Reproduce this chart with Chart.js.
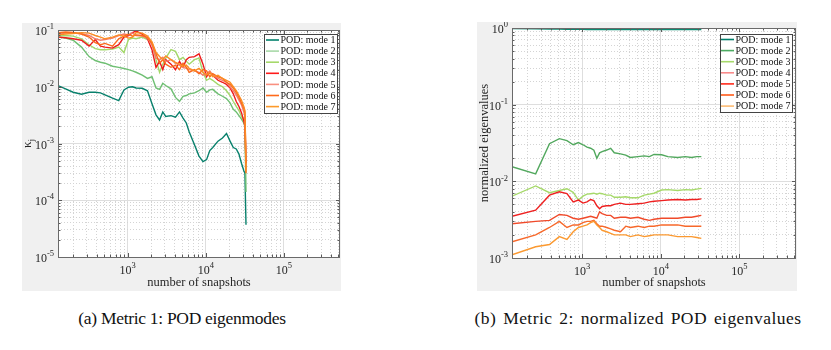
<!DOCTYPE html>
<html><head><meta charset="utf-8">
<script src="https://cdn.jsdelivr.net/npm/chart.js@4.4.1/dist/chart.umd.min.js"></script>
<style>
html,body{margin:0;padding:0;background:#fff;width:831px;height:350px;overflow:hidden;position:relative;}
.panel{position:absolute;background:#f0f0f0;}
canvas{display:block;}
.cap{position:absolute;font-family:"Liberation Serif",serif;font-size:17.5px;line-height:20px;color:#111;white-space:nowrap;transform:translateX(-50%);}
</style></head><body>
<div class="panel" style="left:22px;top:23px;width:319px;height:268px"><canvas id="ca" width="319" height="268"></canvas></div>
<div class="panel" style="left:477px;top:22px;width:320px;height:269px"><canvas id="cb" width="320" height="269"></canvas></div>
<div class="cap" style="left:182px;top:308px;letter-spacing:-0.3px">(a) Metric 1: POD eigenmodes</div>
<div class="cap" style="left:638px;top:308px;letter-spacing:0.45px;word-spacing:2px">(b) Metric 2: normalized POD eigenvalues</div>
<script>
// ---------- data ----------
const seriesLabels = ['POD: mode 1','POD: mode 2','POD: mode 3','POD: mode 4','POD: mode 5','POD: mode 6','POD: mode 7'];
const xTickExponents = [3,4,5];
const yTickExponentsA = [-5,-4,-3,-2,-1];
const yTickExponentsB = [-3,-2,-1,0];

const snapshotsA = [128,160,200,256,320,384,448,512,640,768,896,1024,1152,1280,1536,1792,2048,2304,2560,2816,3072,3584,4096,4608,5120,5632,6144,7168,8192,9216,10240,11264,12288,14336,16384,18432,20480,22528,24576,26624,28672,30720,31744,32768];
const kappaMode1 = [0.0105,0.0092,0.0080,0.0074,0.0080,0.0080,0.0078,0.0072,0.0063,0.0057,0.0088,0.0098,0.0100,0.0095,0.0094,0.0085,0.0050,0.0032,0.0026,0.0036,0.0030,0.0031,0.0029,0.0036,0.0028,0.0023,0.0016,0.00095,0.00060,0.00048,0.00052,0.00075,0.00085,0.0011,0.00125,0.0015,0.0011,0.00085,0.00080,0.00065,0.00045,0.00033,0.00030,0.000037];
const kappaMode2 = [0.076,0.072,0.066,0.050,0.034,0.029,0.027,0.026,0.023,0.022,0.021,0.020,0.019,0.018,0.016,0.014,0.015,0.0095,0.0090,0.0115,0.0105,0.0092,0.0065,0.0055,0.0068,0.0070,0.0075,0.0078,0.0085,0.0095,0.0080,0.0088,0.0090,0.0075,0.0068,0.0062,0.0052,0.0040,0.0036,0.0031,0.0027,0.0023,0.0020,0.00014];
const kappaMode3 = [0.078,0.080,0.078,0.070,0.055,0.047,0.045,0.045,0.046,0.050,0.040,0.068,0.072,0.070,0.075,0.068,0.060,0.030,0.018,0.025,0.032,0.045,0.042,0.030,0.033,0.028,0.025,0.030,0.032,0.018,0.013,0.014,0.013,0.011,0.010,0.0085,0.0070,0.0055,0.0045,0.0038,0.0030,0.0025,0.0022,0.00035];
const kappaMode4 = [0.075,0.073,0.070,0.066,0.052,0.068,0.052,0.050,0.048,0.055,0.075,0.080,0.090,0.096,0.085,0.070,0.045,0.022,0.028,0.020,0.030,0.025,0.020,0.028,0.022,0.030,0.033,0.034,0.038,0.025,0.015,0.018,0.016,0.013,0.012,0.011,0.0095,0.0075,0.0055,0.0045,0.0035,0.0025,0.0020,0.00045];
const kappaMode5 = [0.085,0.088,0.088,0.086,0.080,0.070,0.066,0.068,0.072,0.080,0.085,0.082,0.088,0.080,0.078,0.072,0.055,0.032,0.030,0.033,0.028,0.030,0.026,0.024,0.022,0.021,0.020,0.019,0.018,0.016,0.017,0.019,0.016,0.014,0.013,0.012,0.010,0.0085,0.0072,0.0058,0.0048,0.0036,0.0030,0.0007];
const kappaMode6 = [0.090,0.092,0.091,0.085,0.075,0.060,0.055,0.058,0.052,0.070,0.078,0.085,0.078,0.082,0.080,0.074,0.058,0.038,0.026,0.030,0.025,0.022,0.024,0.020,0.026,0.022,0.018,0.020,0.017,0.020,0.019,0.015,0.017,0.015,0.014,0.012,0.011,0.0095,0.0080,0.0065,0.0052,0.0042,0.0035,0.00030];
const kappaMode7 = [0.082,0.085,0.087,0.090,0.088,0.080,0.075,0.070,0.075,0.082,0.078,0.072,0.075,0.090,0.088,0.078,0.062,0.040,0.034,0.030,0.035,0.030,0.027,0.025,0.023,0.024,0.021,0.019,0.021,0.018,0.016,0.018,0.015,0.016,0.014,0.013,0.012,0.010,0.0085,0.0070,0.0058,0.0045,0.0038,0.00032];

const snapshotsB = [128,256,384,512,640,768,896,1024,1152,1280,1408,1536,1664,1792,2048,2304,2560,3072,3584,4096,5120,6144,7168,8192,10240,12288,16384,20480,24576,28672,32768];
const eigMode1 = [0.985,0.975,0.970,0.966,0.963,0.961,0.960,0.959,0.958,0.958,0.957,0.957,0.957,0.956,0.956,0.956,0.956,0.955,0.955,0.955,0.955,0.955,0.955,0.955,0.955,0.955,0.955,0.955,0.955,0.955,0.955];
const eigMode2 = [0.0155,0.0125,0.031,0.036,0.034,0.030,0.032,0.030,0.028,0.027,0.0255,0.020,0.0235,0.0244,0.0256,0.027,0.0236,0.0228,0.022,0.0205,0.021,0.0215,0.021,0.0224,0.0222,0.021,0.0205,0.021,0.0205,0.021,0.021];
const eigMode3 = [0.0064,0.0087,0.0071,0.0076,0.0080,0.0072,0.0057,0.0064,0.0068,0.0069,0.0070,0.0068,0.0070,0.0069,0.0066,0.0066,0.0062,0.0062,0.0063,0.0061,0.0061,0.0066,0.0068,0.0070,0.0077,0.0078,0.0076,0.0078,0.0077,0.0079,0.0081];
const eigMode4 = [0.0035,0.0042,0.0066,0.0073,0.0069,0.0054,0.0057,0.0052,0.0054,0.0058,0.0056,0.0048,0.0044,0.0047,0.0048,0.0048,0.0050,0.0052,0.0050,0.0050,0.0051,0.0052,0.0054,0.0055,0.0056,0.0057,0.0058,0.0057,0.0058,0.0058,0.0059];
const eigMode5 = [0.0028,0.0030,0.0031,0.0037,0.0036,0.0033,0.0032,0.0033,0.0034,0.0035,0.0034,0.0033,0.0040,0.0038,0.0036,0.0036,0.0033,0.0034,0.0034,0.0033,0.0034,0.0032,0.0031,0.0032,0.0033,0.0033,0.0033,0.0034,0.0034,0.0035,0.0036];
const eigMode6 = [0.00163,0.0020,0.0025,0.0030,0.0025,0.0027,0.0027,0.0029,0.0030,0.0030,0.0031,0.0028,0.0026,0.0026,0.0025,0.0024,0.0023,0.0022,0.0026,0.0025,0.0026,0.0025,0.0026,0.0026,0.0027,0.0027,0.0027,0.0026,0.0026,0.0026,0.0026];
const eigMode7 = [0.0011,0.0014,0.0015,0.0019,0.00175,0.0022,0.0025,0.0026,0.0027,0.0029,0.0030,0.0027,0.0025,0.0023,0.0022,0.0021,0.0020,0.0020,0.0020,0.0019,0.0020,0.0019,0.00195,0.0020,0.0020,0.0020,0.0019,0.0019,0.0019,0.00185,0.0018];

const lineColorsA   = ['#08806c','#6fbf73','#a3d86a','#ee1a1a','#f47c6a','#fa6a1c','#fb8c24'];
const legendColorsA = ['#00806b','#a8d8a8','#a6d96a','#ff1a1a','#f99080','#ff6a1a','#fd9a2a'];
const lineColorsB   = ['#0c8a72','#52a85e','#a6d96a','#ee2020','#f04a2a','#f7682a','#fb9930'];
const legendColorsB = ['#00806b','#4dab62','#a6d96a','#f98b8b','#ff2a1a','#ff5a1a','#fdbb73'];

// ---------- helpers ----------
function logTicks(min, max){
  const t=[];
  for(let d=Math.floor(Math.log10(min)); d<=Math.ceil(Math.log10(max)); d++){
    for(let k=1;k<=9;k++){
      const v=k*Math.pow(10,d);
      if(v>=min*0.999999 && v<=max*1.000001) t.push({value:v, major:k===1});
    }
  }
  return t;
}
const SERIF='"Liberation Serif", "Times New Roman", serif';
function powWidth(ctx, e){
  ctx.font='12px '+SERIF; const wb=ctx.measureText('10').width;
  ctx.font='8.5px '+SERIF; const we=ctx.measureText(String(e)).width;
  return [wb,we];
}
function drawPow(ctx, e, x, y){ // x = left of text, y = center of base
  const [wb]=powWidth(ctx,e);
  ctx.textAlign='left'; ctx.textBaseline='middle';
  ctx.font='12px '+SERIF; ctx.fillText('10', x, y);
  ctx.font='8.5px '+SERIF; ctx.fillText(String(e), x+wb, y-5);
}

const framePlugin = {
  id:'frame',
  beforeDraw(chart){
    const {ctx, chartArea:a}=chart;
    ctx.save(); ctx.fillStyle='#ffffff';
    ctx.fillRect(a.left,a.top,a.right-a.left,a.bottom-a.top); ctx.restore();
  },
  afterDraw(chart, args, o){
    const {ctx, chartArea:a, scales:{x,y}}=chart;
    ctx.save();
    // tick marks (inward, all four sides)
    ctx.strokeStyle='#5a5a5a'; ctx.lineWidth=1;
    ctx.beginPath();
    x.ticks.forEach(t=>{
      const px=Math.round(x.getPixelForValue(t.value))+0.5; const L=t.major?4:2.5;
      ctx.moveTo(px,a.bottom); ctx.lineTo(px,a.bottom-L);
      ctx.moveTo(px,a.top); ctx.lineTo(px,a.top+L);
    });
    y.ticks.forEach(t=>{
      const py=Math.round(y.getPixelForValue(t.value))+0.5; const L=t.major?4:2.5;
      ctx.moveTo(a.left,py); ctx.lineTo(a.left+L,py);
      ctx.moveTo(a.right,py); ctx.lineTo(a.right-L,py);
    });
    ctx.stroke();
    ctx.strokeStyle='#6a6a6a';
    ctx.strokeRect(Math.round(a.left)+0.5, Math.round(a.top)+0.5, Math.round(a.right-a.left)-1, Math.round(a.bottom-a.top));
    // tick labels
    ctx.fillStyle='#262626';
    o.xExps.forEach(e=>{
      const px=x.getPixelForValue(Math.pow(10,e));
      const [wb,we]=powWidth(ctx,e);
      drawPow(ctx,e,px-(wb+we)/2,a.bottom+14);
    });
    o.yExps.forEach(e=>{
      const py=y.getPixelForValue(Math.pow(10,e));
      const [wb,we]=powWidth(ctx,e);
      drawPow(ctx,e,a.left-4-(wb+we),py+2);
    });
    // axis titles
    ctx.font='12.5px '+SERIF; ctx.textAlign='center'; ctx.textBaseline='middle';
    ctx.fillText(o.xTitle,(a.left+a.right)/2,a.bottom+o.xTitleOff);
    ctx.save();
    ctx.translate(a.left-o.yTitleOff,(a.top+a.bottom)/2); ctx.rotate(-Math.PI/2);
    if(o.ySub){
      ctx.font='13px '+SERIF; const w1=ctx.measureText(o.yTitle).width;
      ctx.font='9px '+SERIF; const w2=ctx.measureText(o.ySub).width;
      ctx.textAlign='left';
      ctx.font='13px '+SERIF; ctx.fillText(o.yTitle,-(w1+w2)/2,0);
      ctx.font='9px '+SERIF; ctx.fillText(o.ySub,-(w1+w2)/2+w1,4);
    } else {
      ctx.fillText(o.yTitle,0,0);
    }
    ctx.restore();
    // legend
    const L=o.legend;
    const bx=a.right-L.right-L.width, by=a.top+L.top;
    ctx.fillStyle='#ffffff'; ctx.fillRect(bx,by,L.width,L.height);
    ctx.strokeStyle='#444'; ctx.lineWidth=1;
    ctx.strokeRect(Math.round(bx)+0.5,Math.round(by)+0.5,L.width,L.height);
    chart.data.datasets.forEach((ds,i)=>{
      const cy=by+L.first+i*L.rowH;
      ctx.strokeStyle=ds.legendColor; ctx.lineWidth=1.6;
      ctx.beginPath(); ctx.moveTo(bx+L.lx,cy); ctx.lineTo(bx+L.lx+L.len,cy); ctx.stroke();
      ctx.fillStyle='#111'; ctx.font='10px '+SERIF; ctx.textAlign='left'; ctx.textBaseline='middle';
      ctx.fillText(ds.label,bx+L.lx+L.len+1.5,cy+0.5);
    });
    ctx.restore();
  }
};

function logScale(min,max,horizontal){
  return {
    type:'logarithmic', min:min, max:max, display:true,
    ticks:{display:false},
    title:{display:false},
    grid:{drawTicks:false, lineWidth:1,
      color:(c)=> (c.tick && c.tick.major) ? '#dedede' : '#d4d4d4'},
    border:{display:false,
      dash:(c)=> (c.tick && !c.tick.major) ? [1,2] : []},
    afterBuildTicks:(s)=>{ s.ticks=logTicks(s.min,s.max); },
    afterFit:(s)=>{ if(horizontal) s.height=0; else s.width=0; }
  };
}

function makeChart(id, xs, ys, lineColors, legendColors, yMin, yMax, yExps, pad, frameOpts){
  const datasets = ys.map((arr,i)=>({
    label: seriesLabels[i],
    data: xs.map((x,j)=>({x:x, y:arr[j]})),
    borderColor: lineColors[i],
    legendColor: legendColors[i],
    borderWidth: 1.4,
    pointRadius: 0,
    tension: 0,
    fill: false,
    order: 8-i
  }));
  return new Chart(document.getElementById(id), {
    type:'line',
    data:{datasets},
    options:{
      responsive:false, animation:false, devicePixelRatio:1,
      layout:{padding:pad},
      plugins:{legend:{display:false}, tooltip:{enabled:false}, frame:Object.assign({xExps:xTickExponents, yExps:yExps}, frameOpts)},
      scales:{ x:logScale(128,524288,true), y:logScale(yMin,yMax,false) }
    },
    plugins:[framePlugin]
  });
}

makeChart('ca', snapshotsA,
  [kappaMode1,kappaMode2,kappaMode3,kappaMode4,kappaMode5,kappaMode6,kappaMode7],
  lineColorsA, legendColorsA, 1e-5, 1e-1, yTickExponentsA,
  {left:36, right:1, top:7, bottom:34},
  {xTitle:'number of snapshots', xTitleOff:26, yTitle:'κ', ySub:'j', yTitleOff:30,
   legend:{right:3, top:4, width:73, height:79, first:6, rowH:11.1, lx:2, len:13}});

makeChart('cb', snapshotsB,
  [eigMode1,eigMode2,eigMode3,eigMode4,eigMode5,eigMode6,eigMode7],
  lineColorsB, legendColorsB, 1e-3, 1, yTickExponentsB,
  {left:35, right:1, top:6, bottom:33},
  {xTitle:'number of snapshots', xTitleOff:25, yTitle:'normalized eigenvalues', ySub:null, yTitleOff:27,
   legend:{right:4, top:6, width:72, height:78, first:5.5, rowH:11.1, lx:1, len:13}});
</script>
</body></html>
